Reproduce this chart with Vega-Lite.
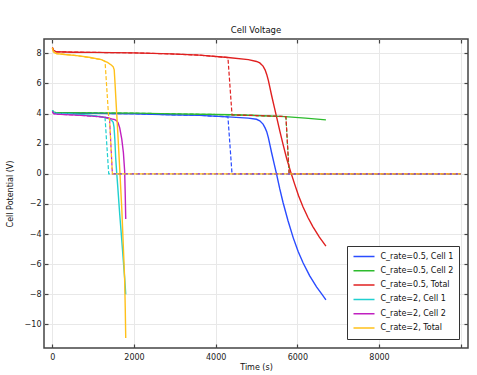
{
  "$schema": "https://vega.github.io/schema/vega-lite/v6.json",
  "width": 424,
  "height": 309,
  "autosize": {"type": "none"},
  "padding": {"left": 44, "top": 39, "right": 9, "bottom": 27},
  "background": "white",
  "title": {"text": "Cell Voltage", "fontSize": 8.5, "fontWeight": "normal", "font": "DejaVu Sans", "color": "#111", "offset": 4},
  "config": {
    "view": {"stroke": "#444", "strokeWidth": 1.5},
    "axis": {"labelFont": "DejaVu Sans", "titleFont": "DejaVu Sans", "labelFontSize": 8, "titleFontSize": 8, "titleFontWeight": "normal", "labelColor": "#222", "titleColor": "#111", "tickColor": "#444", "tickWidth": 1.2, "domain": false, "gridColor": "#e8e8e8", "gridWidth": 1}
  },
  "data": {"values": [
    {"s": "C_rate=0.5, Cell 1", "k": "solid", "t": 0, "v": 4.18},
    {"s": "C_rate=0.5, Cell 1", "k": "solid", "t": 30, "v": 4.08},
    {"s": "C_rate=0.5, Cell 1", "k": "solid", "t": 100, "v": 4.04},
    {"s": "C_rate=0.5, Cell 1", "k": "solid", "t": 500, "v": 4.02},
    {"s": "C_rate=0.5, Cell 1", "k": "solid", "t": 1000, "v": 4.01},
    {"s": "C_rate=0.5, Cell 1", "k": "solid", "t": 2000, "v": 3.99},
    {"s": "C_rate=0.5, Cell 1", "k": "solid", "t": 2900, "v": 3.92},
    {"s": "C_rate=0.5, Cell 1", "k": "solid", "t": 3600, "v": 3.88},
    {"s": "C_rate=0.5, Cell 1", "k": "solid", "t": 4300, "v": 3.78},
    {"s": "C_rate=0.5, Cell 1", "k": "solid", "t": 4800, "v": 3.7},
    {"s": "C_rate=0.5, Cell 1", "k": "solid", "t": 5000, "v": 3.62},
    {"s": "C_rate=0.5, Cell 1", "k": "solid", "t": 5080, "v": 3.52},
    {"s": "C_rate=0.5, Cell 1", "k": "solid", "t": 5160, "v": 3.3},
    {"s": "C_rate=0.5, Cell 1", "k": "solid", "t": 5210, "v": 3.05},
    {"s": "C_rate=0.5, Cell 1", "k": "solid", "t": 5250, "v": 2.8},
    {"s": "C_rate=0.5, Cell 1", "k": "solid", "t": 5290, "v": 2.4},
    {"s": "C_rate=0.5, Cell 1", "k": "solid", "t": 5330, "v": 1.9},
    {"s": "C_rate=0.5, Cell 1", "k": "solid", "t": 5370, "v": 1.4},
    {"s": "C_rate=0.5, Cell 1", "k": "solid", "t": 5430, "v": 0.7},
    {"s": "C_rate=0.5, Cell 1", "k": "solid", "t": 5490, "v": 0.0},
    {"s": "C_rate=0.5, Cell 1", "k": "solid", "t": 5570, "v": -1.0},
    {"s": "C_rate=0.5, Cell 1", "k": "solid", "t": 5650, "v": -1.9},
    {"s": "C_rate=0.5, Cell 1", "k": "solid", "t": 5770, "v": -3.1},
    {"s": "C_rate=0.5, Cell 1", "k": "solid", "t": 5900, "v": -4.25},
    {"s": "C_rate=0.5, Cell 1", "k": "solid", "t": 6020, "v": -5.15},
    {"s": "C_rate=0.5, Cell 1", "k": "solid", "t": 6140, "v": -5.9},
    {"s": "C_rate=0.5, Cell 1", "k": "solid", "t": 6300, "v": -6.75},
    {"s": "C_rate=0.5, Cell 1", "k": "solid", "t": 6470, "v": -7.5},
    {"s": "C_rate=0.5, Cell 1", "k": "solid", "t": 6600, "v": -7.98},
    {"s": "C_rate=0.5, Cell 1", "k": "solid", "t": 6700, "v": -8.36},

    {"s": "C_rate=0.5, Cell 2", "k": "solid", "t": 0, "v": 4.2},
    {"s": "C_rate=0.5, Cell 2", "k": "solid", "t": 30, "v": 4.1},
    {"s": "C_rate=0.5, Cell 2", "k": "solid", "t": 100, "v": 4.06},
    {"s": "C_rate=0.5, Cell 2", "k": "solid", "t": 500, "v": 4.05},
    {"s": "C_rate=0.5, Cell 2", "k": "solid", "t": 1000, "v": 4.04},
    {"s": "C_rate=0.5, Cell 2", "k": "solid", "t": 2000, "v": 4.03},
    {"s": "C_rate=0.5, Cell 2", "k": "solid", "t": 3000, "v": 3.98},
    {"s": "C_rate=0.5, Cell 2", "k": "solid", "t": 4000, "v": 3.94},
    {"s": "C_rate=0.5, Cell 2", "k": "solid", "t": 4400, "v": 3.92},
    {"s": "C_rate=0.5, Cell 2", "k": "solid", "t": 5000, "v": 3.87},
    {"s": "C_rate=0.5, Cell 2", "k": "solid", "t": 5700, "v": 3.8},
    {"s": "C_rate=0.5, Cell 2", "k": "solid", "t": 6200, "v": 3.7},
    {"s": "C_rate=0.5, Cell 2", "k": "solid", "t": 6700, "v": 3.58},

    {"s": "C_rate=0.5, Total", "k": "solid", "t": 0, "v": 8.38},
    {"s": "C_rate=0.5, Total", "k": "solid", "t": 30, "v": 8.2},
    {"s": "C_rate=0.5, Total", "k": "solid", "t": 100, "v": 8.1},
    {"s": "C_rate=0.5, Total", "k": "solid", "t": 500, "v": 8.07},
    {"s": "C_rate=0.5, Total", "k": "solid", "t": 1000, "v": 8.06},
    {"s": "C_rate=0.5, Total", "k": "solid", "t": 2000, "v": 8.03},
    {"s": "C_rate=0.5, Total", "k": "solid", "t": 2900, "v": 7.96},
    {"s": "C_rate=0.5, Total", "k": "solid", "t": 3600, "v": 7.88},
    {"s": "C_rate=0.5, Total", "k": "solid", "t": 4300, "v": 7.72},
    {"s": "C_rate=0.5, Total", "k": "solid", "t": 4800, "v": 7.58},
    {"s": "C_rate=0.5, Total", "k": "solid", "t": 5000, "v": 7.46},
    {"s": "C_rate=0.5, Total", "k": "solid", "t": 5080, "v": 7.36},
    {"s": "C_rate=0.5, Total", "k": "solid", "t": 5160, "v": 7.15},
    {"s": "C_rate=0.5, Total", "k": "solid", "t": 5210, "v": 6.9},
    {"s": "C_rate=0.5, Total", "k": "solid", "t": 5250, "v": 6.6},
    {"s": "C_rate=0.5, Total", "k": "solid", "t": 5290, "v": 6.2},
    {"s": "C_rate=0.5, Total", "k": "solid", "t": 5330, "v": 5.7},
    {"s": "C_rate=0.5, Total", "k": "solid", "t": 5370, "v": 5.2},
    {"s": "C_rate=0.5, Total", "k": "solid", "t": 5430, "v": 4.5},
    {"s": "C_rate=0.5, Total", "k": "solid", "t": 5490, "v": 3.8},
    {"s": "C_rate=0.5, Total", "k": "solid", "t": 5570, "v": 2.85},
    {"s": "C_rate=0.5, Total", "k": "solid", "t": 5650, "v": 1.95},
    {"s": "C_rate=0.5, Total", "k": "solid", "t": 5740, "v": 1.0},
    {"s": "C_rate=0.5, Total", "k": "solid", "t": 5835, "v": 0.15},
    {"s": "C_rate=0.5, Total", "k": "solid", "t": 5930, "v": -0.65},
    {"s": "C_rate=0.5, Total", "k": "solid", "t": 6030, "v": -1.45},
    {"s": "C_rate=0.5, Total", "k": "solid", "t": 6140, "v": -2.2},
    {"s": "C_rate=0.5, Total", "k": "solid", "t": 6260, "v": -2.9},
    {"s": "C_rate=0.5, Total", "k": "solid", "t": 6380, "v": -3.5},
    {"s": "C_rate=0.5, Total", "k": "solid", "t": 6540, "v": -4.2},
    {"s": "C_rate=0.5, Total", "k": "solid", "t": 6700, "v": -4.8},

    {"s": "C_rate=2, Cell 1", "k": "solid", "t": 0, "v": 4.22},
    {"s": "C_rate=2, Cell 1", "k": "solid", "t": 30, "v": 4.08},
    {"s": "C_rate=2, Cell 1", "k": "solid", "t": 100, "v": 4.02},
    {"s": "C_rate=2, Cell 1", "k": "solid", "t": 300, "v": 3.99},
    {"s": "C_rate=2, Cell 1", "k": "solid", "t": 600, "v": 3.95},
    {"s": "C_rate=2, Cell 1", "k": "solid", "t": 900, "v": 3.89},
    {"s": "C_rate=2, Cell 1", "k": "solid", "t": 1200, "v": 3.8},
    {"s": "C_rate=2, Cell 1", "k": "solid", "t": 1290, "v": 3.74},
    {"s": "C_rate=2, Cell 1", "k": "solid", "t": 1350, "v": 3.7},
    {"s": "C_rate=2, Cell 1", "k": "solid", "t": 1450, "v": 3.56},
    {"s": "C_rate=2, Cell 1", "k": "solid", "t": 1490, "v": 3.42},
    {"s": "C_rate=2, Cell 1", "k": "solid", "t": 1510, "v": 3.1},
    {"s": "C_rate=2, Cell 1", "k": "solid", "t": 1530, "v": 2.3},
    {"s": "C_rate=2, Cell 1", "k": "solid", "t": 1550, "v": 1.1},
    {"s": "C_rate=2, Cell 1", "k": "solid", "t": 1575, "v": 0.1},
    {"s": "C_rate=2, Cell 1", "k": "solid", "t": 1600, "v": -0.8},
    {"s": "C_rate=2, Cell 1", "k": "solid", "t": 1650, "v": -2.7},
    {"s": "C_rate=2, Cell 1", "k": "solid", "t": 1700, "v": -4.4},
    {"s": "C_rate=2, Cell 1", "k": "solid", "t": 1750, "v": -6.2},
    {"s": "C_rate=2, Cell 1", "k": "solid", "t": 1770, "v": -6.9},
    {"s": "C_rate=2, Cell 1", "k": "solid", "t": 1785, "v": -7.5},
    {"s": "C_rate=2, Cell 1", "k": "solid", "t": 1797, "v": -8.0},

    {"s": "C_rate=2, Cell 2", "k": "solid", "t": 0, "v": 4.15},
    {"s": "C_rate=2, Cell 2", "k": "solid", "t": 30, "v": 4.0},
    {"s": "C_rate=2, Cell 2", "k": "solid", "t": 100, "v": 3.96},
    {"s": "C_rate=2, Cell 2", "k": "solid", "t": 300, "v": 3.93},
    {"s": "C_rate=2, Cell 2", "k": "solid", "t": 600, "v": 3.9},
    {"s": "C_rate=2, Cell 2", "k": "solid", "t": 900, "v": 3.85},
    {"s": "C_rate=2, Cell 2", "k": "solid", "t": 1200, "v": 3.78},
    {"s": "C_rate=2, Cell 2", "k": "solid", "t": 1350, "v": 3.72},
    {"s": "C_rate=2, Cell 2", "k": "solid", "t": 1450, "v": 3.65},
    {"s": "C_rate=2, Cell 2", "k": "solid", "t": 1490, "v": 3.62},
    {"s": "C_rate=2, Cell 2", "k": "solid", "t": 1530, "v": 3.6},
    {"s": "C_rate=2, Cell 2", "k": "solid", "t": 1575, "v": 3.52},
    {"s": "C_rate=2, Cell 2", "k": "solid", "t": 1610, "v": 3.38},
    {"s": "C_rate=2, Cell 2", "k": "solid", "t": 1650, "v": 3.05},
    {"s": "C_rate=2, Cell 2", "k": "solid", "t": 1700, "v": 2.3},
    {"s": "C_rate=2, Cell 2", "k": "solid", "t": 1740, "v": 1.4},
    {"s": "C_rate=2, Cell 2", "k": "solid", "t": 1770, "v": 0.2},
    {"s": "C_rate=2, Cell 2", "k": "solid", "t": 1785, "v": -1.4},
    {"s": "C_rate=2, Cell 2", "k": "solid", "t": 1797, "v": -3.0},

    {"s": "C_rate=2, Total", "k": "solid", "t": 0, "v": 8.37},
    {"s": "C_rate=2, Total", "k": "solid", "t": 30, "v": 8.08},
    {"s": "C_rate=2, Total", "k": "solid", "t": 100, "v": 7.98},
    {"s": "C_rate=2, Total", "k": "solid", "t": 300, "v": 7.92},
    {"s": "C_rate=2, Total", "k": "solid", "t": 600, "v": 7.85},
    {"s": "C_rate=2, Total", "k": "solid", "t": 900, "v": 7.74},
    {"s": "C_rate=2, Total", "k": "solid", "t": 1200, "v": 7.58},
    {"s": "C_rate=2, Total", "k": "solid", "t": 1290, "v": 7.47},
    {"s": "C_rate=2, Total", "k": "solid", "t": 1350, "v": 7.4},
    {"s": "C_rate=2, Total", "k": "solid", "t": 1450, "v": 7.21},
    {"s": "C_rate=2, Total", "k": "solid", "t": 1490, "v": 7.1},
    {"s": "C_rate=2, Total", "k": "solid", "t": 1515, "v": 6.9},
    {"s": "C_rate=2, Total", "k": "solid", "t": 1535, "v": 6.0},
    {"s": "C_rate=2, Total", "k": "solid", "t": 1555, "v": 5.0},
    {"s": "C_rate=2, Total", "k": "solid", "t": 1580, "v": 3.8},
    {"s": "C_rate=2, Total", "k": "solid", "t": 1605, "v": 2.6},
    {"s": "C_rate=2, Total", "k": "solid", "t": 1650, "v": 0.3},
    {"s": "C_rate=2, Total", "k": "solid", "t": 1700, "v": -2.3},
    {"s": "C_rate=2, Total", "k": "solid", "t": 1750, "v": -5.6},
    {"s": "C_rate=2, Total", "k": "solid", "t": 1770, "v": -7.0},
    {"s": "C_rate=2, Total", "k": "solid", "t": 1785, "v": -8.9},
    {"s": "C_rate=2, Total", "k": "solid", "t": 1797, "v": -10.9},

    {"s": "C_rate=0.5, Cell 1", "k": "dashed", "t": 0, "v": 4.18},
    {"s": "C_rate=0.5, Cell 1", "k": "dashed", "t": 30, "v": 4.08},
    {"s": "C_rate=0.5, Cell 1", "k": "dashed", "t": 100, "v": 4.04},
    {"s": "C_rate=0.5, Cell 1", "k": "dashed", "t": 1000, "v": 4.01},
    {"s": "C_rate=0.5, Cell 1", "k": "dashed", "t": 2000, "v": 3.99},
    {"s": "C_rate=0.5, Cell 1", "k": "dashed", "t": 2900, "v": 3.92},
    {"s": "C_rate=0.5, Cell 1", "k": "dashed", "t": 3600, "v": 3.88},
    {"s": "C_rate=0.5, Cell 1", "k": "dashed", "t": 4300, "v": 3.78},
    {"s": "C_rate=0.5, Cell 1", "k": "dashed", "t": 4400, "v": 0.0},
    {"s": "C_rate=0.5, Cell 1", "k": "dashed", "t": 10000, "v": 0.0},

    {"s": "C_rate=0.5, Cell 2", "k": "dashed", "t": 0, "v": 4.2},
    {"s": "C_rate=0.5, Cell 2", "k": "dashed", "t": 30, "v": 4.1},
    {"s": "C_rate=0.5, Cell 2", "k": "dashed", "t": 100, "v": 4.06},
    {"s": "C_rate=0.5, Cell 2", "k": "dashed", "t": 1000, "v": 4.04},
    {"s": "C_rate=0.5, Cell 2", "k": "dashed", "t": 2000, "v": 4.03},
    {"s": "C_rate=0.5, Cell 2", "k": "dashed", "t": 3000, "v": 3.98},
    {"s": "C_rate=0.5, Cell 2", "k": "dashed", "t": 4000, "v": 3.94},
    {"s": "C_rate=0.5, Cell 2", "k": "dashed", "t": 5000, "v": 3.87},
    {"s": "C_rate=0.5, Cell 2", "k": "dashed", "t": 5720, "v": 3.8},
    {"s": "C_rate=0.5, Cell 2", "k": "dashed", "t": 5800, "v": 0.0},
    {"s": "C_rate=0.5, Cell 2", "k": "dashed", "t": 10000, "v": 0.0},

    {"s": "C_rate=0.5, Total", "k": "dashed", "t": 0, "v": 8.38},
    {"s": "C_rate=0.5, Total", "k": "dashed", "t": 30, "v": 8.2},
    {"s": "C_rate=0.5, Total", "k": "dashed", "t": 100, "v": 8.1},
    {"s": "C_rate=0.5, Total", "k": "dashed", "t": 1000, "v": 8.06},
    {"s": "C_rate=0.5, Total", "k": "dashed", "t": 2000, "v": 8.03},
    {"s": "C_rate=0.5, Total", "k": "dashed", "t": 2900, "v": 7.96},
    {"s": "C_rate=0.5, Total", "k": "dashed", "t": 3600, "v": 7.88},
    {"s": "C_rate=0.5, Total", "k": "dashed", "t": 4300, "v": 7.72},
    {"s": "C_rate=0.5, Total", "k": "dashed", "t": 4400, "v": 3.91},
    {"s": "C_rate=0.5, Total", "k": "dashed", "t": 5000, "v": 3.87},
    {"s": "C_rate=0.5, Total", "k": "dashed", "t": 5720, "v": 3.8},
    {"s": "C_rate=0.5, Total", "k": "dashed", "t": 5800, "v": 0.0},
    {"s": "C_rate=0.5, Total", "k": "dashed", "t": 10000, "v": 0.0},

    {"s": "C_rate=2, Cell 1", "k": "dashed", "t": 0, "v": 4.22},
    {"s": "C_rate=2, Cell 1", "k": "dashed", "t": 30, "v": 4.08},
    {"s": "C_rate=2, Cell 1", "k": "dashed", "t": 100, "v": 4.02},
    {"s": "C_rate=2, Cell 1", "k": "dashed", "t": 600, "v": 3.95},
    {"s": "C_rate=2, Cell 1", "k": "dashed", "t": 1200, "v": 3.8},
    {"s": "C_rate=2, Cell 1", "k": "dashed", "t": 1290, "v": 3.74},
    {"s": "C_rate=2, Cell 1", "k": "dashed", "t": 1380, "v": 0.0},
    {"s": "C_rate=2, Cell 1", "k": "dashed", "t": 10000, "v": 0.0},

    {"s": "C_rate=2, Cell 2", "k": "dashed", "t": 0, "v": 4.15},
    {"s": "C_rate=2, Cell 2", "k": "dashed", "t": 30, "v": 4.0},
    {"s": "C_rate=2, Cell 2", "k": "dashed", "t": 100, "v": 3.96},
    {"s": "C_rate=2, Cell 2", "k": "dashed", "t": 600, "v": 3.9},
    {"s": "C_rate=2, Cell 2", "k": "dashed", "t": 1200, "v": 3.78},
    {"s": "C_rate=2, Cell 2", "k": "dashed", "t": 1400, "v": 3.69},
    {"s": "C_rate=2, Cell 2", "k": "dashed", "t": 1470, "v": 0.0},
    {"s": "C_rate=2, Cell 2", "k": "dashed", "t": 10000, "v": 0.0},

    {"s": "C_rate=2, Total", "k": "dashed", "t": 0, "v": 8.37},
    {"s": "C_rate=2, Total", "k": "dashed", "t": 30, "v": 8.08},
    {"s": "C_rate=2, Total", "k": "dashed", "t": 100, "v": 7.98},
    {"s": "C_rate=2, Total", "k": "dashed", "t": 600, "v": 7.85},
    {"s": "C_rate=2, Total", "k": "dashed", "t": 1200, "v": 7.58},
    {"s": "C_rate=2, Total", "k": "dashed", "t": 1290, "v": 7.47},
    {"s": "C_rate=2, Total", "k": "dashed", "t": 1380, "v": 3.69},
    {"s": "C_rate=2, Total", "k": "dashed", "t": 1400, "v": 3.68},
    {"s": "C_rate=2, Total", "k": "dashed", "t": 1470, "v": 0.0},
    {"s": "C_rate=2, Total", "k": "dashed", "t": 10000, "v": 0.0}
  ]},
  "layer": [
    {
      "transform": [{"filter": "datum.k == 'solid'"}],
      "mark": {"type": "line", "strokeWidth": 1.4},
      "encoding": {
        "x": {"field": "t", "type": "quantitative", "scale": {"domain": [-205, 10180], "nice": false, "zero": false},
              "axis": {"orient": "bottom", "values": [0, 2000, 4000, 6000, 8000, 10000], "labelExpr": "datum.value == 10000 ? '' : datum.label", "tickSize": -4, "labelPadding": 9, "grid": true, "title": "Time (s)", "titleY": 15, "format": "d"}},
        "y": {"field": "v", "type": "quantitative", "scale": {"domain": [-11.56, 8.95], "nice": false, "zero": false},
              "axis": {"orient": "left", "values": [-10, -8, -6, -4, -2, 0, 2, 4, 6, 8], "tickSize": -4, "labelPadding": 7, "grid": true, "title": "Cell Potential (V)", "titleX": -30}},
        "color": {"field": "s", "type": "nominal",
                  "scale": {"domain": ["C_rate=0.5, Cell 1", "C_rate=0.5, Cell 2", "C_rate=0.5, Total", "C_rate=2, Cell 1", "C_rate=2, Cell 2", "C_rate=2, Total"],
                            "range": ["#2a4cff", "#2dbb2d", "#e02020", "#20d0d0", "#c020c0", "#ffc01a"]},
                  "legend": {"orient": "none", "legendX": 303, "legendY": 207, "title": null, "symbolType": "stroke", "symbolSize": 441, "symbolStrokeWidth": 1.5, "labelFont": "DejaVu Sans", "labelFontSize": 8, "labelColor": "#111", "clipHeight": 10, "rowPadding": 4.3, "padding": 5.5, "strokeColor": "#333", "fillColor": "white", "labelOffset": 5}}
      }
    },
    {
      "transform": [{"filter": "datum.k == 'dashed'"}],
      "mark": {"type": "line", "strokeWidth": 1.2, "strokeDash": [4, 2]},
      "encoding": {
        "x": {"field": "t", "type": "quantitative",
              "axis": {"orient": "top", "values": [0, 2000, 4000, 6000, 8000, 10000], "tickSize": -4, "labels": false, "grid": false, "title": null}},
        "y": {"field": "v", "type": "quantitative",
              "axis": {"orient": "right", "values": [-10, -8, -6, -4, -2, 0, 2, 4, 6, 8], "tickSize": -4, "labels": false, "grid": false, "title": null}},
        "color": {"field": "s", "type": "nominal"}
      }
    }
  ],
  "resolve": {"axis": {"x": "independent", "y": "independent"}}
}
